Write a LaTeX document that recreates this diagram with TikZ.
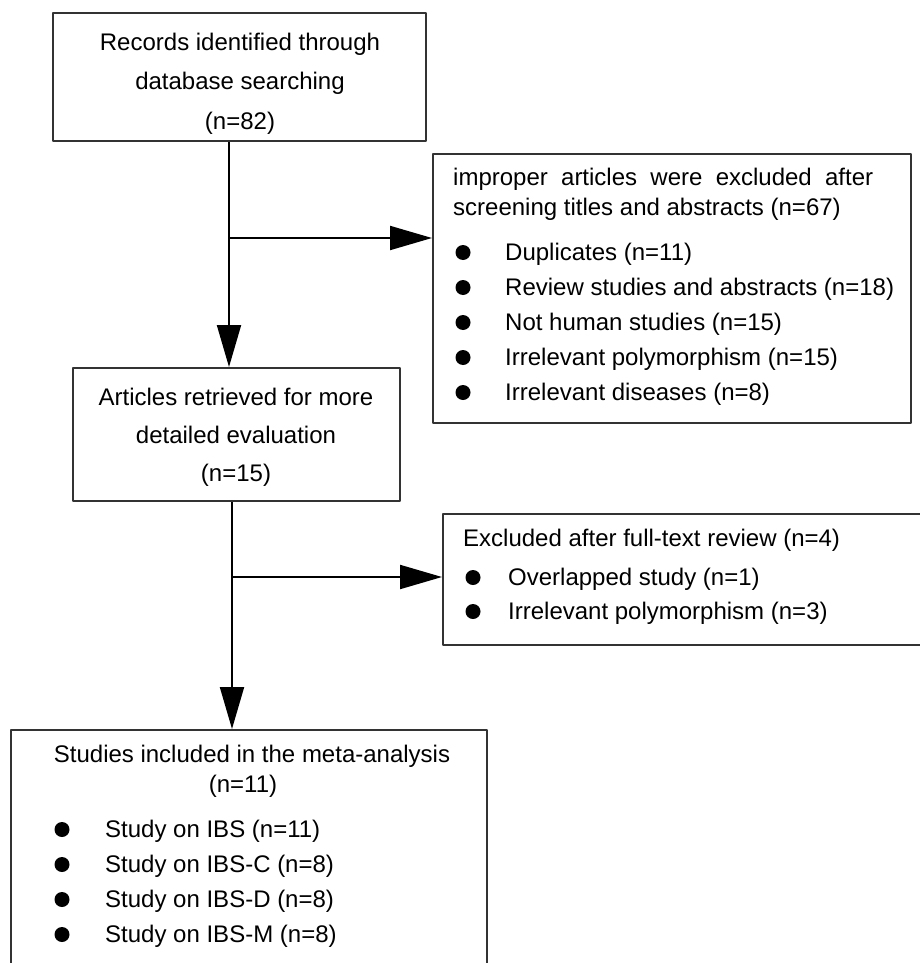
\documentclass[tikz,border=0pt]{standalone}
\usepackage{fontspec}
\setmainfont{Liberation Sans}
\usetikzlibrary{arrows.meta}

\begin{document}
\begin{tikzpicture}[x=1pt,y=-1pt,line join=round,
  box/.style={draw=boxgray,line width=2pt,rectangle,inner sep=0pt},
  txt/.style={font=\fontsize{24}{29}\selectfont,inner sep=0pt,anchor=base},
  lefttxt/.style={txt,anchor=base west},
  flow/.style={line width=2pt,-{Triangle[length=42pt,width=24pt]}}]
\definecolor{boxgray}{HTML}{333333}
\useasboundingbox (0,0) rectangle (920,963);
\clip (0,0) rectangle (920,963);
\node[box,minimum width=373pt,minimum height=128pt] (records) at (239.5,77) {};
\node[txt] (recordsA) at (240,51) {Records identified through};
\node[txt] (recordsB) at (240,90) {database searching};
\node[txt] (recordsC) at (240,129) {(n=82)};
\node[box,minimum width=327pt,minimum height=133pt] (retrieved) at (236.5,434.5) {};
\node[txt] (retrievedA) at (236,405) {Articles retrieved for more};
\node[txt] (retrievedB) at (236,443) {detailed evaluation};
\node[txt] (retrievedC) at (236,481) {(n=15)};
\node[box,minimum width=478pt,minimum height=269pt] (improper) at (672,288.5) {};
\node[lefttxt] (improperA) at (453,185) {\makebox[420pt][s]{improper articles were excluded after}};
\node[lefttxt] (improperB) at (453,215) {screening titles and abstracts (n=67)};
\foreach \y/\t in {260/Duplicates (n=11),295/Review studies and abstracts (n=18),330/Not human studies (n=15),365/Irrelevant polymorphism (n=15),400/Irrelevant diseases (n=8)} {
  \fill (463,\y-7.5) circle (7.5);
  \node[lefttxt] (improper-\y) at (505,\y) {\t};
}
\node[box,minimum width=497pt,minimum height=131pt] (fulltext) at (691.5,579.5) {};
\node[lefttxt] (fulltextA) at (463,546) {Excluded after full-text review (n=4)};
\foreach \y/\t in {585/Overlapped study (n=1),619/Irrelevant polymorphism (n=3)} {
  \fill (473,\y-7.5) circle (7.5);
  \node[lefttxt] (fulltext-\y) at (508,\y) {\t};
}
\node[box,minimum width=476pt,minimum height=260pt] (included) at (249,860) {};
\node[txt] (includedA) at (252,762) {Studies included in the meta-analysis};
\node[txt] (includedB) at (243,792) {(n=11)};
\foreach \y/\t in {837/Study on IBS (n=11),872/Study on IBS-C (n=8),907/Study on IBS-D (n=8),942/Study on IBS-M (n=8)} {
  \fill (62,\y-7.5) circle (7.5);
  \node[lefttxt] (included-\y) at (105,\y) {\t};
}
\coordinate (split1) at (229,238);
\coordinate (split2) at (232,577);
\draw[flow] (records.south -| split1) -- (retrieved.north -| split1);
\draw[flow] (split1) -- (split1 -| improper.west);
\draw[flow] (retrieved.south -| split2) -- (included.north -| split2);
\draw[flow] (split2) -- (split2 -| fulltext.west);
\end{tikzpicture}
\end{document}
